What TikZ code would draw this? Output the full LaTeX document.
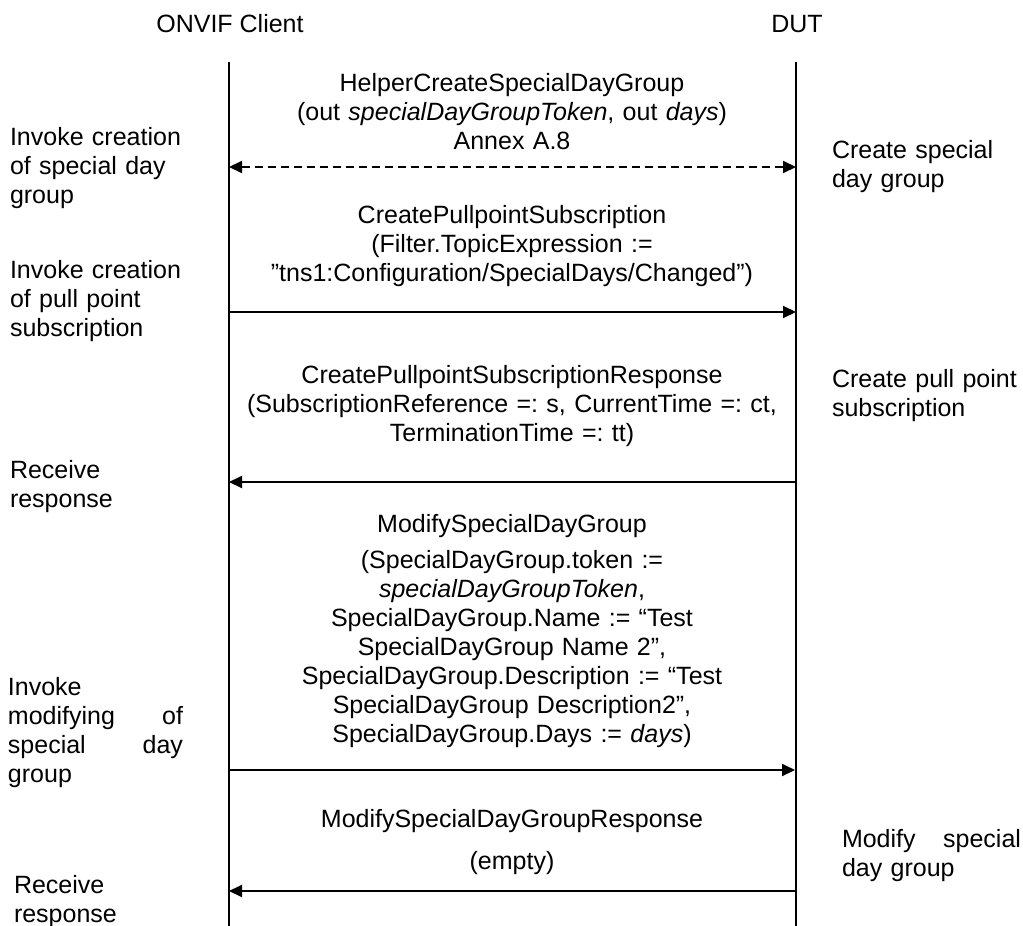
\documentclass[tikz,border=0pt]{standalone}
\usepackage{fontspec}
\setmainfont{Liberation Sans}
\usetikzlibrary{arrows.meta}
\frenchspacing
\begin{document}
\begin{tikzpicture}[x=1pt,y=-1pt,
  every node/.style={inner sep=0pt, outer sep=0pt, font=\fontsize{25}{29}\selectfont\frenchspacing},
  head/.style={anchor=base},
  msg/.style={text width=580pt, align=center, anchor=base},
  lbl/.style={text width=220pt, align=left, anchor=base west},
  jlbl/.style={align=left, anchor=base west},
  life/.style={line width=1.5pt},
  call/.style={line width=2pt, -{Triangle[length=13pt,width=12pt]}},
  helper/.style={line width=2pt, dash pattern=on 8pt off 5pt, {Triangle[length=13pt,width=12pt]}-{Triangle[length=13pt,width=12pt]}}
]
\useasboundingbox (0,0) rectangle (1023,926);

% headers
\node[head] (client) at (230,32) {ONVIF Client};
\node[head] (dut) at (797,32) {DUT};

% lifelines
\coordinate (cT) at (229,62);
\coordinate (cB) at (229,926);
\coordinate (dT) at (796,62);
\coordinate (dB) at (796,926);
\draw[life] (cT) -- (cB);
\draw[life] (dT) -- (dB);

% arrow end points
\coordinate (c1) at (229,167); \coordinate (d1) at (796,167);
\coordinate (c2) at (229,312); \coordinate (d2) at (796,312);
\coordinate (c3) at (229,482); \coordinate (d3) at (796,482);
\coordinate (c4) at (229,770); \coordinate (d4) at (795,770);
\coordinate (c5) at (229,891); \coordinate (d5) at (796,891);

% messages
\node[msg] (m1) at (512,91) {HelperCreateSpecialDayGroup\\(out \textit{specialDayGroupToken}, out \textit{days})\\Annex A.8};
\draw[helper] (c1) -- (d1);

\node[msg] (m2) at (512,223) {CreatePullpointSubscription\\(Filter.TopicExpression :=\\”tns1:Configuration/SpecialDays/Changed”)};
\draw[call] (c2) -- (d2);

\node[msg] (m3) at (512,383) {CreatePullpointSubscriptionResponse\\(SubscriptionReference =: s, CurrentTime =: ct,\\TerminationTime =: tt)};
\draw[call] (d3) -- (c3);

\node[msg] (m4) at (512,532) {ModifySpecialDayGroup\\[7pt](SpecialDayGroup.token :=\\\textit{specialDayGroupToken},\\SpecialDayGroup.Name := “Test\\SpecialDayGroup Name 2”,\\SpecialDayGroup.Description := “Test\\SpecialDayGroup Description2”,\\SpecialDayGroup.Days := \textit{days})};
\draw[call] (c4) -- (d4);

\node[msg] (m5) at (512,827) {ModifySpecialDayGroupResponse\\[13pt](empty)};
\draw[call] (d5) -- (c5);

% left labels
\node[lbl] (l1) at (10,145) {Invoke creation\\of special day\\group};
\node[lbl] (l2) at (10,278) {Invoke creation\\of pull point\\subscription};
\node[lbl] (l3) at (10,478) {Receive\\response};
\node[jlbl, text width=175pt] (l4) at (8,695) {Invoke\\modifying\hfill of\\special\hfill day\\group};
\node[lbl] (l5) at (14,893) {Receive\\response};

% right labels
\node[lbl, text width=190pt] (r1) at (832,158) {Create special\\day group};
\node[lbl, text width=190pt] (r2) at (832,387) {Create pull point\\subscription};
\node[jlbl, text width=179pt] (r3) at (842,847) {Modify\hfill special\\day group};
\end{tikzpicture}
\end{document}
